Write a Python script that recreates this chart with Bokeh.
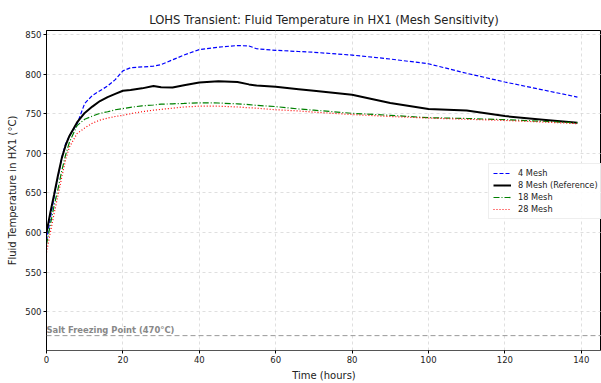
from bokeh.plotting import figure
from bokeh.models import Range1d, Span, Legend, LegendItem, FixedTicker, Label
from bokeh.embed import file_html
from bokeh.resources import INLINE

time_h = [0, 1, 2, 3, 4, 5, 6, 8, 10, 12, 14, 16, 18, 20, 22, 25, 28, 30, 33, 36,
          40, 45, 50, 53, 55, 60, 66, 70, 80, 90, 100, 110, 120, 130, 139]

mesh4 = [590, 618, 645, 670, 695, 712, 722, 737, 763, 773, 779, 785, 793, 804, 808, 809,
         810, 812, 818, 824, 831, 834, 836, 835.5, 832, 830, 828.5, 827.5, 824, 819,
         813, 801, 790, 780, 771]
mesh8 = [600, 625, 648, 672, 694, 710, 722, 739, 751, 759, 766, 771, 775, 779, 780, 782,
         785, 783.5, 783, 786, 789.5, 791, 790, 787, 785.5, 784, 781, 779, 774, 763.5,
         756, 754, 747, 742.5, 738.5]
mesh18 = [585, 610, 634, 655, 678, 698, 714, 735, 743, 747, 750.5, 752.5, 755, 756.5, 758,
          760, 761, 762, 762.5, 763, 763.8, 763.5, 762.5, 761.5, 760.5, 759, 756, 754.5,
          750.5, 748, 745, 744, 742.5, 740.5, 738.5]
mesh28 = [575, 600, 624, 647, 670, 692, 708, 725, 732, 738, 742, 744.5, 746.5, 748, 750,
          752.5, 754.5, 755.5, 757, 758.5, 759.5, 759.5, 758.5, 757.5, 757, 755, 753.5,
          752, 749, 746.5, 744.5, 743, 741.5, 739.5, 737.5]

series_labels = ["4 Mesh", "8 Mesh (Reference)", "18 Mesh", "28 Mesh"]
freezing_point = 470
x_ticks = [0, 20, 40, 60, 80, 100, 120, 140]
y_ticks = [500, 550, 600, 650, 700, 750, 800, 850]

FONT = "DejaVu Sans"

p = figure(width=601, height=383, output_backend="svg", toolbar_location=None,
           x_range=Range1d(0, 145.3), y_range=Range1d(451.25, 855),
           min_border_left=46, min_border_right=0, min_border_top=30, min_border_bottom=30,
           title="LOHS Transient: Fluid Temperature in HX1 (Mesh Sensitivity)")

p.title.align = "center"
p.title.text_font = FONT
p.title.text_font_size = "11.6px"
p.title.text_font_style = "normal"
p.title.text_color = "#222222"
p.title.offset = 0
p.title.standoff = 8

p.outline_line_color = "black"
p.outline_line_width = 1
p.background_fill_color = "white"
p.border_fill_color = "white"

for ax in (p.xaxis[0], p.yaxis[0]):
    ax.major_label_text_font = FONT
    ax.major_label_text_font_size = "8.5px"
    ax.major_label_text_color = "#222222"
    ax.axis_label_text_font = FONT
    ax.axis_label_text_font_size = "10px"
    ax.axis_label_text_font_style = "normal"
    ax.axis_label_text_color = "#222222"
    ax.major_tick_out = 3
    ax.major_tick_in = 0
    ax.minor_tick_out = 0
    ax.minor_tick_in = 0
    ax.major_label_standoff = 2
    ax.axis_label_standoff = 4
    ax.axis_line_color = "black"

p.xaxis[0].axis_line_color = "#555555"
p.xaxis.ticker = FixedTicker(ticks=x_ticks)
p.yaxis.ticker = FixedTicker(ticks=y_ticks)
p.xaxis.axis_label = "Time (hours)"
p.yaxis.axis_label = "Fluid Temperature in HX1 (°C)"

p.grid.grid_line_color = "#cccccc"
p.grid.grid_line_dash = "3 3"
p.grid.grid_line_alpha = 0.8
p.grid.grid_line_width = 0.8

freeze = Span(location=freezing_point, dimension="width", line_color="#999999",
              line_dash="5 3", line_width=1)
p.add_layout(freeze)
p.add_layout(Label(x=0, y=477, text="Salt Freezing Point (470°C)", text_font=FONT,
                   text_font_size="8.4px", text_font_style="bold", text_color="#888888",
                   text_baseline="alphabetic", text_align="left"))

r4 = p.line(time_h, mesh4, line_color="blue", line_dash="4 2", line_width=1.2)
r8 = p.line(time_h, mesh8, line_color="black", line_width=2)
r18 = p.line(time_h, mesh18, line_color="green", line_dash="6 2 1 2", line_width=1.2)
r28 = p.line(time_h, mesh28, line_color="red", line_dash="1 2", line_width=1.2)

legend = Legend(items=[LegendItem(label=series_labels[0], renderers=[r4]),
                       LegendItem(label=series_labels[1], renderers=[r8]),
                       LegendItem(label=series_labels[2], renderers=[r18]),
                       LegendItem(label=series_labels[3], renderers=[r28])],
                location=(442, 131))
legend.label_text_font = FONT
legend.label_text_font_size = "8.2px"
legend.label_text_color = "#222222"
legend.label_height = 10
legend.glyph_height = 10
legend.glyph_width = 18
legend.spacing = 2
legend.padding = 4
legend.margin = 0
legend.label_standoff = 7
legend.border_line_color = "#dddddd"
legend.background_fill_alpha = 0.9
p.add_layout(legend)

open("out.html", "w").write(file_html(p, INLINE))
